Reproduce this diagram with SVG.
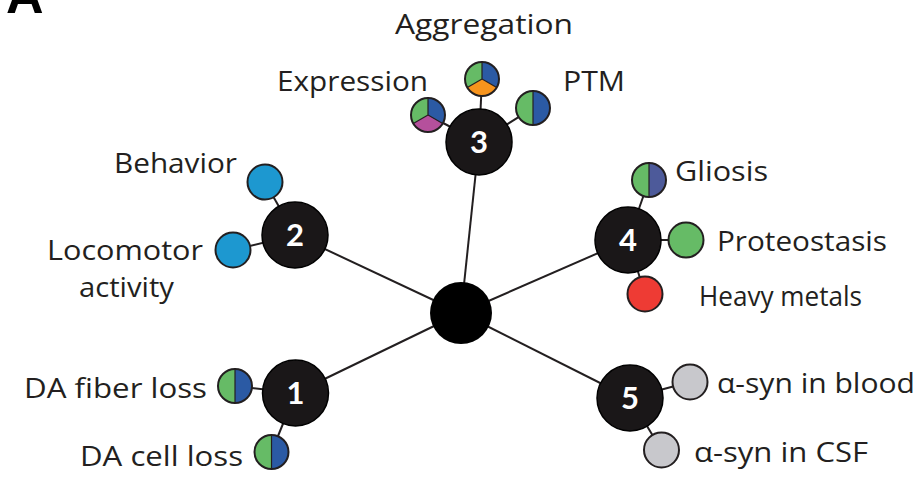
<svg xmlns="http://www.w3.org/2000/svg" width="923" height="498" viewBox="0 0 923 498">
<style>
.ln{stroke:#231f20;stroke-width:2;fill:none}
.hub{fill:#000}
.big{fill:#1a1718;stroke:#000;stroke-width:1.5}
.num{font-family:"Lato","Liberation Sans",sans-serif;font-weight:bold;font-size:31px;fill:#fff;text-anchor:middle}
.lbl{font-family:"Open Sans","Liberation Sans",sans-serif;font-size:28px;fill:#231f20}
.sat{stroke:#231f20;stroke-width:2}
.g{fill:#66bb66}.b{fill:#2b5aa4}.o{fill:#f7941d}.m{fill:#b5509c}.c{fill:#1d98d0}.r{fill:#ee3b34}.gr{fill:#c8c8cc}.p{fill:#4d5a9a}
.sep{stroke:#231f20;stroke-width:1.2;fill:none}
</style>
<text x="6" y="13" font-family="'Liberation Sans',sans-serif" font-weight="bold" font-size="52" fill="#000">A</text>
<g id="connectors">
<line class="ln" x1="461" y1="313" x2="479" y2="142"/>
<line class="ln" x1="461" y1="313" x2="295" y2="235"/>
<line class="ln" x1="461" y1="313" x2="628" y2="240"/>
<line class="ln" x1="461" y1="313" x2="295.5" y2="393"/>
<line class="ln" x1="461" y1="313" x2="630" y2="398"/>
<line class="ln" x1="479" y1="142" x2="482" y2="79"/>
<line class="ln" x1="479" y1="142" x2="428" y2="115"/>
<line class="ln" x1="479" y1="142" x2="533" y2="108"/>
<line class="ln" x1="295" y1="235" x2="265" y2="182"/>
<line class="ln" x1="295" y1="235" x2="233" y2="250"/>
<line class="ln" x1="628" y1="240" x2="649" y2="180"/>
<line class="ln" x1="628" y1="240" x2="686" y2="240"/>
<line class="ln" x1="628" y1="240" x2="645" y2="294"/>
<line class="ln" x1="295.5" y1="393" x2="235" y2="386"/>
<line class="ln" x1="295.5" y1="393" x2="271.5" y2="452"/>
<line class="ln" x1="630" y1="398" x2="690" y2="382"/>
<line class="ln" x1="630" y1="398" x2="661.5" y2="450"/>
</g>
<g id="hub"><circle class="hub" cx="461" cy="313" r="31"/></g>
<g id="node3">
<circle class="big" cx="479" cy="142" r="33"/>
<text class="num" x="479" y="153">3</text>
</g>
<g id="node2">
<circle class="big" cx="295" cy="235" r="33"/>
<text class="num" x="295" y="246">2</text>
</g>
<g id="node4">
<circle class="big" cx="628" cy="240" r="33"/>
<text class="num" x="628" y="251">4</text>
</g>
<g id="node1">
<circle class="big" cx="295.5" cy="393" r="33"/>
<text class="num" x="295.5" y="404">1</text>
</g>
<g id="node5">
<circle class="big" cx="630" cy="398" r="33"/>
<text class="num" x="630" y="409">5</text>
</g>
<g id="aggregation">
<path class="g" d="M482,79 L482,62 A17,17 0 0 0 467.3,87.5 Z"/>
<path class="b" d="M482,79 L482,62 A17,17 0 0 1 496.7,87.5 Z"/>
<path class="o" d="M482,79 L496.7,87.5 A17,17 0 0 1 467.3,87.5 Z"/>
<path class="sep" d="M482,62 L482,79 L496.7,87.5 M482,79 L467.3,87.5"/>
<circle class="sat" cx="482" cy="79" r="17" fill="none"/>
<text class="lbl" x="395" y="34" textLength="178" lengthAdjust="spacingAndGlyphs">Aggregation</text>
</g>
<g id="expression">
<path class="g" d="M428,115 L428,98 A17,17 0 0 0 413.3,123.5 Z"/>
<path class="b" d="M428,115 L428,98 A17,17 0 0 1 442.7,123.5 Z"/>
<path class="m" d="M428,115 L442.7,123.5 A17,17 0 0 1 413.3,123.5 Z"/>
<path class="sep" d="M428,98 L428,115 L442.7,123.5 M428,115 L413.3,123.5"/>
<circle class="sat" cx="428" cy="115" r="17" fill="none"/>
<text class="lbl" x="277" y="91" textLength="151" lengthAdjust="spacingAndGlyphs">Expression</text>
</g>
<g id="ptm">
<path class="g" d="M533,91 A17,17 0 0 0 533,125 Z"/>
<path class="b" d="M533,91 A17,17 0 0 1 533,125 Z"/>
<line class="sep" x1="533" y1="91" x2="533" y2="125"/>
<circle class="sat" cx="533" cy="108" r="17" fill="none"/>
<text class="lbl" x="563" y="91" textLength="62" lengthAdjust="spacingAndGlyphs">PTM</text>
</g>
<g id="behavior">
<circle class="sat c" cx="265" cy="182" r="17.5"/>
<text class="lbl" x="114" y="173" textLength="123" lengthAdjust="spacingAndGlyphs">Behavior</text>
</g>
<g id="locomotor">
<circle class="sat c" cx="233" cy="250" r="17.5"/>
<text class="lbl" x="47" y="260" textLength="156" lengthAdjust="spacingAndGlyphs">Locomotor</text>
<text class="lbl" x="79" y="297" textLength="95" lengthAdjust="spacingAndGlyphs">activity</text>
</g>
<g id="gliosis">
<path class="g" d="M649,163 A17,17 0 0 0 649,197 Z"/>
<path class="p" d="M649,163 A17,17 0 0 1 649,197 Z"/>
<line class="sep" x1="649" y1="163" x2="649" y2="197"/>
<circle class="sat" cx="649" cy="180" r="17" fill="none"/>
<text class="lbl" x="675" y="181" textLength="93" lengthAdjust="spacingAndGlyphs">Gliosis</text>
</g>
<g id="proteostasis">
<circle class="sat g" cx="686" cy="240" r="17.5"/>
<text class="lbl" x="717" y="251" textLength="170" lengthAdjust="spacingAndGlyphs">Proteostasis</text>
</g>
<g id="heavymetals">
<circle class="sat r" cx="645" cy="294" r="17.5"/>
<text class="lbl" x="699" y="306" font-size="27" textLength="163" lengthAdjust="spacingAndGlyphs">Heavy metals</text>
</g>
<g id="dafiber">
<path class="g" d="M235,369 A17,17 0 0 0 235,403 Z"/>
<path class="b" d="M235,369 A17,17 0 0 1 235,403 Z"/>
<line class="sep" x1="235" y1="369" x2="235" y2="403"/>
<circle class="sat" cx="235" cy="386" r="17" fill="none"/>
<text class="lbl" x="24" y="398" textLength="183" lengthAdjust="spacingAndGlyphs">DA fiber loss</text>
</g>
<g id="dacell">
<path class="g" d="M271.5,435 A17,17 0 0 0 271.5,469 Z"/>
<path class="b" d="M271.5,435 A17,17 0 0 1 271.5,469 Z"/>
<line class="sep" x1="271.5" y1="435" x2="271.5" y2="469"/>
<circle class="sat" cx="271.5" cy="452" r="17" fill="none"/>
<text class="lbl" x="80" y="466" textLength="163" lengthAdjust="spacingAndGlyphs">DA cell loss</text>
</g>
<g id="blood">
<circle class="sat gr" cx="690" cy="382" r="17.5"/>
<text class="lbl" x="717" y="393" textLength="198" lengthAdjust="spacingAndGlyphs">α-syn in blood</text>
</g>
<g id="csf">
<circle class="sat gr" cx="661.5" cy="450" r="17.5"/>
<text class="lbl" x="694" y="462" textLength="174" lengthAdjust="spacingAndGlyphs">α-syn in CSF</text>
</g>
</svg>
